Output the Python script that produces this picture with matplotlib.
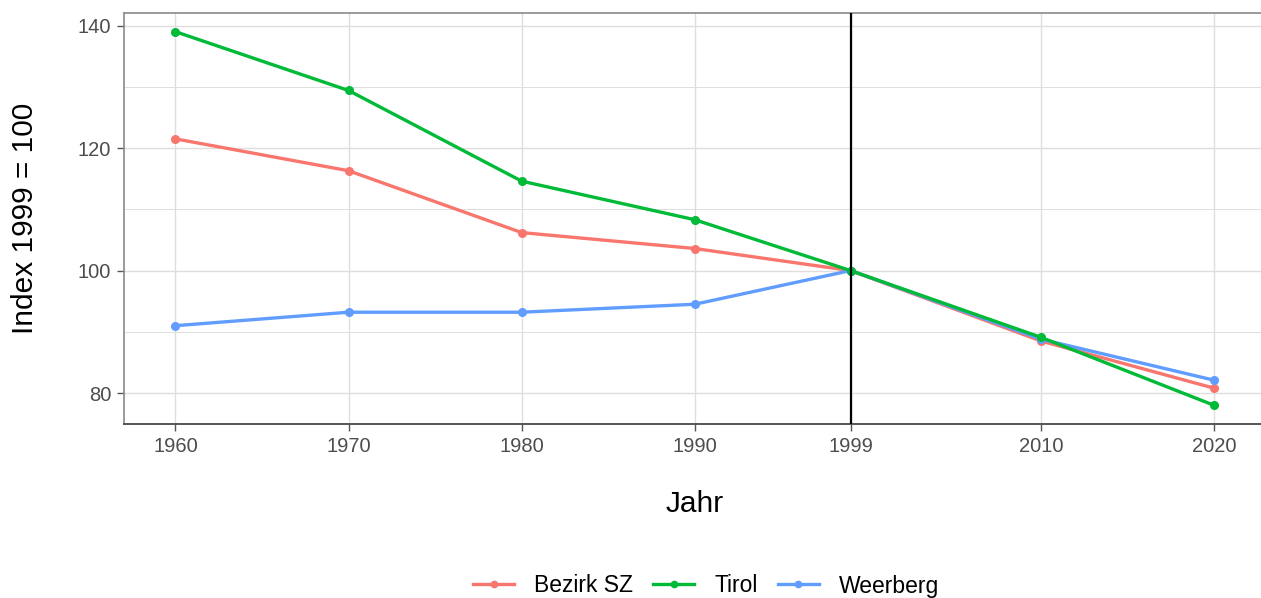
import matplotlib as mpl
import matplotlib.pyplot as plt
from matplotlib.lines import Line2D

# index values, 1999 = 100
jahre = [1960, 1970, 1980, 1990, 1999, 2010, 2020]
bezirk_sz = [121.5, 116.3, 106.2, 103.6, 100.0, 88.5, 80.8]
tirol = [139.0, 129.4, 114.6, 108.3, 100.0, 89.1, 78.0]
weerberg = [91.0, 93.2, 93.2, 94.5, 100.0, 88.8, 82.1]
series_names = ["Bezirk SZ", "Tirol", "Weerberg"]
yticks = [80, 100, 120, 140]
yminor = [90, 110, 130]

mpl.rcParams["font.family"] = ["Liberation Sans", "DejaVu Sans"]

colors = ["#F8766D", "#00BA38", "#619CFF"]
zorders = [3, 5, 4]

fig = plt.figure(figsize=(12.61, 5.98), dpi=100)
# panel runs off the right edge of the picture, like the reference
ax = fig.add_axes([123.5 / 1261, 1 - 424 / 598, (1266 - 123.5) / 1261, (424 - 13) / 598])

for name, vals, c, z in zip(series_names, [bezirk_sz, tirol, weerberg], colors, zorders):
    ax.plot(jahre, vals, color=c, lw=2.4, marker="o", ms=5.5, zorder=z,
            solid_capstyle="butt", label=name)

ax.axvline(1999, color="black", lw=1.6, zorder=6)

ax.set_xlim(1957, 2023)
ax.set_ylim(74.95, 142.05)
ax.set_xticks(jahre)
ax.set_xticklabels([str(j) for j in jahre])
ax.set_yticks(yticks)
ax.set_yticks(yminor, minor=True)

ax.grid(which="major", color="#DEDEDE", lw=1.0, zorder=0)
ax.grid(which="minor", axis="y", color="#DEDEDE", lw=0.7, zorder=0)
ax.set_axisbelow(True)

for side in ["left", "top"]:
    ax.spines[side].set_color("#8A8A8A")
    ax.spines[side].set_linewidth(1.2)
ax.spines["bottom"].set_color("#555555")
ax.spines["bottom"].set_linewidth(1.4)
ax.spines["right"].set_visible(False)

ax.tick_params(which="major", length=5, width=1, color="#555555",
               labelsize=14.5, labelcolor="#4D4D4D", pad=4)
ax.tick_params(which="minor", length=0)

ax.set_xlabel("Jahr", fontsize=21.5, labelpad=25)
ax.set_ylabel("Index 1999 = 100", fontsize=21.5, labelpad=28)

handles = [Line2D([], [], color=c, lw=2.4, marker="o", ms=4.5) for c in colors]
fig.legend(handles, series_names, loc="center", bbox_to_anchor=(706 / 1261, 1 - 586 / 598),
           ncol=3, frameon=False, fontsize=16.5, handlelength=1.8,
           columnspacing=0.87, handletextpad=0.87)

fig.savefig("out.png", dpi=100)
